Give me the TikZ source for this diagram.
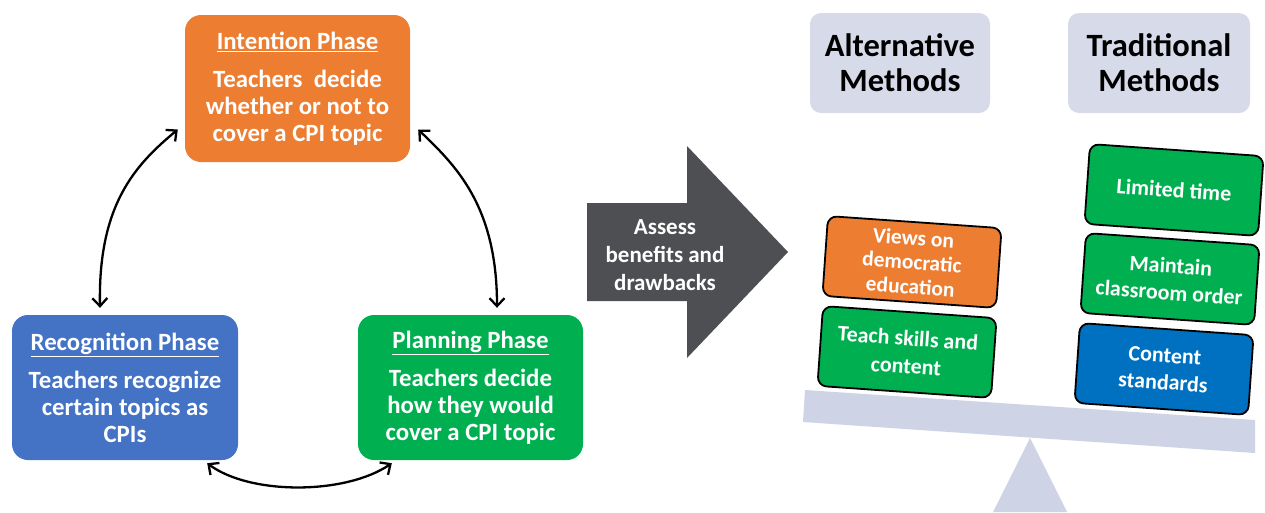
\documentclass[tikz,border=0pt]{standalone}
\usepackage{fontspec}
\setmainfont{Carlito}
\usetikzlibrary{arrows.meta,calc}
\definecolor{phorange}{HTML}{ED7D31}
\definecolor{phblue}{HTML}{4472C4}
\definecolor{phgreen}{HTML}{00B050}
\definecolor{stdblue}{HTML}{0070C0}
\definecolor{arrowgray}{HTML}{4E4F53}
\definecolor{headgray}{HTML}{D6DAE9}
\definecolor{beamgray}{HTML}{CED3E6}
\begin{document}
\begin{tikzpicture}[x=1pt,y=-1pt,
  phase/.style={rounded corners=16pt, text=white, inner sep=0pt, align=center,
    font=\bfseries\fontsize{24.8}{27}\selectfont},
  headbox/.style={rounded corners=11pt, fill=headgray, text=black, inner sep=0pt, align=center,
    minimum height=100pt, font=\bfseries\fontsize{32.5}{35}\selectfont},
  weight/.style={draw=black, line width=1.8pt, rounded corners=9pt, minimum width=174pt,
    minimum height=80pt, rotate=-4, text=white, inner sep=0pt, align=center,
    font=\bfseries\fontsize{22}{25}\selectfont},
  cycarrow/.style={line width=2.3pt, black,
    {Straight Barb[length=8pt,width=15pt]}-{Straight Barb[length=8pt,width=15pt]}}
]
\useasboundingbox (0,0) rectangle (1265,512);

% phase boxes
\node[phase, fill=phorange, minimum width=225pt, minimum height=147pt] (int) at (297.5,88.5)
  {\underline{Intention Phase}\\[11pt]Teachers\ \ decide\\whether or not to\\cover a CPI topic};
\node[phase, fill=phblue, minimum width=226pt, minimum height=145pt] (rec) at (125,387.5)
  {\underline{Recognition Phase}\\[11pt]Teachers recognize\\certain topics as\\CPIs};
\node[phase, fill=phgreen, minimum width=225pt, minimum height=145pt] (pla) at (470.5,387.5)
  {\underline{Planning Phase}\\[11pt]Teachers decide\\how they would\\cover a CPI topic};

% cycle arrows
\draw[cycarrow] ([xshift=-7pt]int.200) .. controls (135,165) and (98,205) .. ([shift={(-25,-7)}]rec.north);
\draw[cycarrow] ([xshift=8pt]int.340) .. controls (455,165) and (497,205) .. ([shift={(26.5,-7)}]pla.north);
\draw[cycarrow] ([shift={(-31,3)}]rec.south east) .. controls (250,495) and (345,495) .. ([shift={(34,3)}]pla.south west);

% big arrow
\fill[arrowgray] (587,203) -- (687,203) -- (687,146) -- (788,252) -- (687,358) -- (687,301) -- (587,301) -- cycle;
\node[text=white, align=center, font=\bfseries\fontsize{23}{28}\selectfont] (assess) at (665,255)
  {Assess\\benefits and\\drawbacks};

% headers
\node[headbox, minimum width=180pt] (alt) at (900,63) {Alternative\\Methods};
\node[headbox, minimum width=182pt] (trad) at (1159,63) {Traditional\\Methods};

% scale
\fill[beamgray] (1030,438) -- (1067,512) -- (993,512) -- cycle;
\fill[beamgray] (805,390) -- (1255,420) -- (1255,453) -- (803,422) -- cycle;

% weights
\node[weight, fill=phorange, font=\bfseries\fontsize{21.5}{24.5}\selectfont] (views) at (912,262) {Views on\\democratic\\education};
\node[weight, fill=phgreen, font=\bfseries\fontsize{22}{28}\selectfont] (teach) at (907,352) {Teach skills and\\content};
\node[weight, fill=phgreen] (limited) at (1174,190) {Limited time};
\node[weight, fill=phgreen, font=\bfseries\fontsize{22}{27}\selectfont] (maintain) at (1170,279) {Maintain\\classroom order};
\node[weight, fill=stdblue, font=\bfseries\fontsize{22}{27}\selectfont] (content) at (1164,369) {Content\\standards};
\end{tikzpicture}
\end{document}
